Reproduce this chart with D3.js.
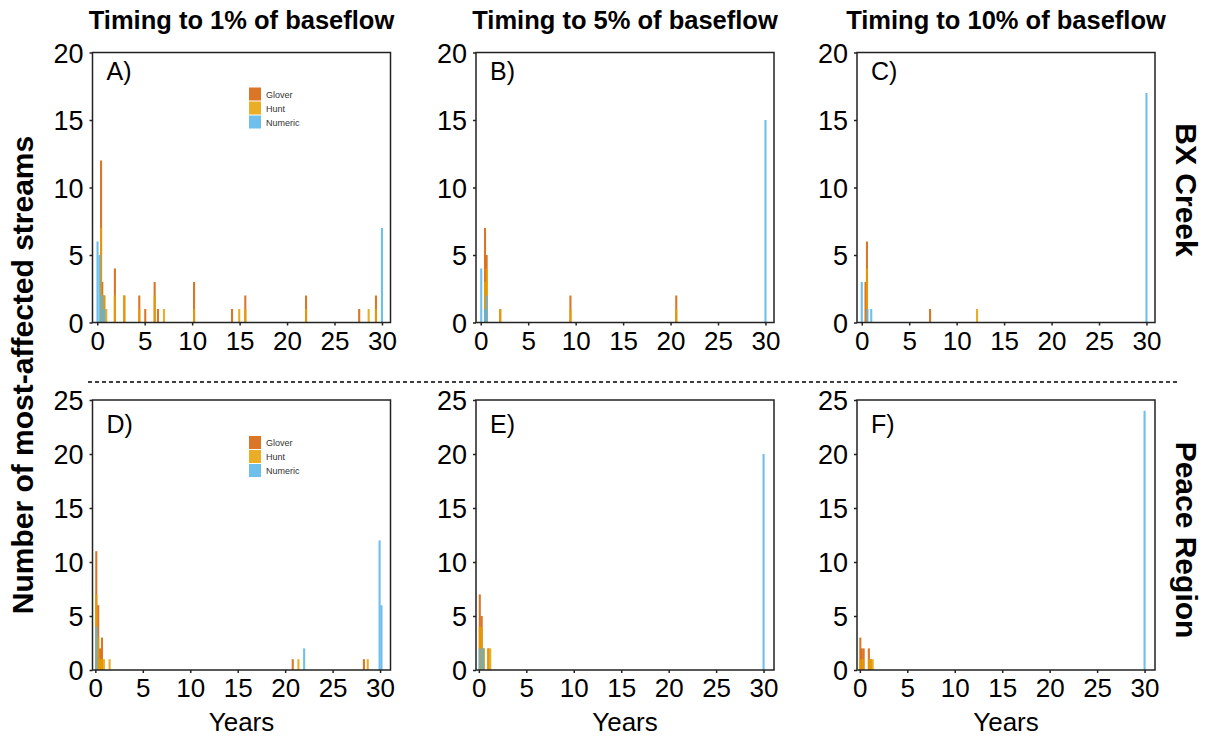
<!DOCTYPE html>
<html>
<head>
<meta charset="utf-8">
<script src="https://cdn.jsdelivr.net/npm/d3@7"></script>
<style>
  body { margin: 0; background: #fff; }
  text { font-family: "Liberation Sans", Arial, sans-serif; }
</style>
</head>
<body>
<div class="chart"></div>
<script>
// values: [year, count]
var columnTitles = ["Timing to 1% of baseflow", "Timing to 5% of baseflow", "Timing to 10% of baseflow"];
var rowTitles = ["BX Creek", "Peace Region"];
var panelLabels = ["A)", "B)", "C)", "D)", "E)", "F)"];
var seriesNames = ["Glover", "Hunt", "Numeric"];
var seriesColors = ["#d55e00", "#e69f00", "#56b4e9"];
var xTicks = [0, 5, 10, 15, 20, 25, 30];
var yTicksTop = [0, 5, 10, 15, 20];
var yTicksBottom = [0, 5, 10, 15, 20, 25];

var gloverA = [[0.4, 12], [0.53, 3], [0.74, 2], [1.86, 4], [2.85, 2], [4.43, 2], [5.06, 1], [6.05, 3], [6.4, 1], [10.2, 3], [14.2, 1], [15.6, 2], [22.0, 2], [27.6, 1], [29.37, 2]];
var huntA = [[0.4, 7], [0.53, 2], [0.74, 2], [0.95, 1], [1.86, 2], [2.85, 2], [4.43, 1], [6.05, 2], [7.03, 1], [10.2, 1], [14.96, 1], [15.6, 1], [22.0, 1], [28.6, 1], [29.37, 1]];
var numericA = [[0.03, 6], [0.25, 5], [0.53, 2], [0.74, 1], [30.0, 7]];

var gloverB = [[0.45, 7], [0.62, 5], [2.05, 1], [9.45, 2], [20.6, 2]];
var huntB = [[0.45, 3], [0.62, 4], [2.05, 1], [9.45, 1], [20.6, 1]];
var numericB = [[0.05, 4], [0.45, 1], [0.62, 2], [30.0, 15]];

var gloverC = [[0.4, 3], [0.55, 6], [7.2, 1]];
var huntC = [[0.55, 4], [12.15, 1]];
var numericC = [[0.0, 3], [0.6, 1], [1.0, 1], [30.0, 17]];

var gloverD = [[0.1, 11], [0.3, 6], [0.5, 2], [0.7, 3], [20.8, 1], [28.3, 1]];
var huntD = [[0.1, 7], [0.3, 3], [0.5, 1], [0.7, 1], [0.9, 1], [1.5, 1], [21.4, 1], [28.7, 1]];
var numericD = [[0.1, 4], [22.0, 2], [29.95, 12], [30.15, 6]];

var gloverE = [[0.1, 7], [0.3, 5], [0.5, 2], [1.0, 2]];
var huntE = [[0.1, 4], [0.3, 4], [0.5, 2], [1.0, 2], [1.2, 2]];
var numericE = [[0.1, 2], [0.4, 2], [30.0, 20]];

var gloverF = [[0.05, 3], [0.2, 2], [0.4, 2], [0.95, 2], [1.15, 1]];
var huntF = [[0.05, 1], [0.3, 1], [0.95, 1], [1.15, 1], [1.35, 1]];
var numericF = [[30.0, 24]];

var panelData = [
  [gloverA, huntA, numericA], [gloverB, huntB, numericB], [gloverC, huntC, numericC],
  [gloverD, huntD, numericD], [gloverE, huntE, numericE], [gloverF, huntF, numericF]
];

var svgWidth = 1211;
var svgHeight = 740;
var colLeft = [92.5, 476, 857];
var rowTop = [52.5, 400];
var panelW = 298;
var panelH = 270;
var binW = 0.22;

var svg = d3.select(".chart")
  .append("svg")
  .attr("width", svgWidth)
  .attr("height", svgHeight);

panelData.forEach(function(series, i) {
  var row = Math.floor(i / 3);
  var col = i % 3;
  var g = svg.append("g")
    .attr("transform", "translate(" + colLeft[col] + "," + rowTop[row] + ")");

  var xScale = d3.scaleLinear()
    .domain(row === 0 ? [-0.5, 30.9] : [-0.3, 31.1])
    .range([0, panelW]);
  var yScale = d3.scaleLinear()
    .domain(row === 0 ? [0, 20] : [0, 25])
    .range([panelH, 0]);

  // bars, glover then hunt then numeric on top
  series.forEach(function(s, k) {
    g.selectAll(".bar" + k)
      .data(s)
      .enter()
      .append("rect")
      .attr("x", function(d) { return xScale(d[0] - binW / 2); })
      .attr("width", function(d) { return xScale(d[0] + binW / 2) - xScale(d[0] - binW / 2); })
      .attr("y", function(d) { return yScale(d[1]); })
      .attr("height", function(d) { return panelH - yScale(d[1]); })
      .attr("fill", seriesColors[k])
      .attr("fill-opacity", 0.85);
  });

  var bottomAxis = d3.axisBottom(xScale).tickValues(xTicks).tickSize(3).tickPadding(4);
  var leftAxis = d3.axisLeft(yScale)
    .tickValues(row === 0 ? yTicksTop : yTicksBottom)
    .tickSize(3).tickPadding(6);

  var xa = g.append("g")
    .attr("transform", "translate(0," + panelH + ")")
    .call(bottomAxis);
  xa.selectAll("text").style("font-size", "26px").attr("dy", "0.78em").attr("fill", "#000");

  var ya = g.append("g").call(leftAxis);
  ya.selectAll("text").style("font-size", "27px").attr("dy", "0.36em").attr("fill", "#000");

  [xa, ya].forEach(function(a) {
    a.select(".domain").remove();
    a.selectAll("line").attr("stroke", "#222").attr("stroke-width", 1.5);
  });

  // frame
  g.append("rect")
    .attr("width", panelW)
    .attr("height", panelH)
    .attr("fill", "none")
    .attr("stroke", "#222")
    .attr("stroke-width", 1.5);

  g.append("text")
    .attr("x", 14)
    .attr("y", row === 0 ? 27 : 33)
    .style("font-size", "25px")
    .text(panelLabels[i]);

  // legend only in first column
  if (col === 0) {
    var leg = g.append("g").attr("transform", "translate(" + (249 - colLeft[0]) + "," + (row === 0 ? 35 : 36) + ")");
    seriesNames.forEach(function(name, k) {
      leg.append("rect")
        .attr("x", 0)
        .attr("y", k * 14)
        .attr("width", 12)
        .attr("height", 13)
        .attr("fill", seriesColors[k])
        .attr("fill-opacity", 0.85);
      leg.append("text")
        .attr("x", 17)
        .attr("y", k * 14 + 10)
        .style("font-size", "9px")
        .attr("fill", "#333")
        .text(name);
    });
  }

  if (row === 1) {
    svg.append("text")
      .attr("x", colLeft[col] + panelW / 2)
      .attr("y", 731)
      .style("text-anchor", "middle")
      .style("font-size", "26px")
      .text("Years");
  }
});

// column titles
columnTitles.forEach(function(t, c) {
  svg.append("text")
    .attr("x", colLeft[c] + panelW / 2)
    .attr("y", 29)
    .style("text-anchor", "middle")
    .style("font-size", "25.5px")
    .style("font-weight", "bold")
    .text(t);
});

// row titles on the right
var rowCenters = [190, 540];
rowTitles.forEach(function(t, r) {
  svg.append("text")
    .attr("transform", "translate(1176," + rowCenters[r] + ") rotate(90)")
    .style("text-anchor", "middle")
    .style("font-size", "30px")
    .style("font-weight", "bold")
    .text(t);
});

svg.append("text")
  .attr("transform", "translate(33,375) rotate(-90)")
  .style("text-anchor", "middle")
  .style("font-size", "30px")
  .style("font-weight", "bold")
  .text("Number of most-affected streams");

svg.append("line")
  .attr("x1", 88)
  .attr("x2", 1178)
  .attr("y1", 382)
  .attr("y2", 382)
  .attr("stroke", "#000")
  .attr("stroke-width", 1.5)
  .attr("stroke-dasharray", "4,3");
</script>
</body>
</html>
